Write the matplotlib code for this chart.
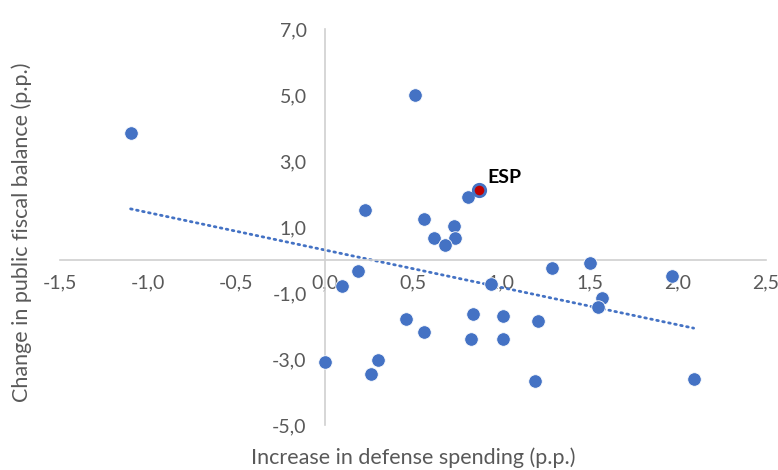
import numpy as np
import matplotlib.pyplot as plt
from matplotlib.ticker import FuncFormatter, MultipleLocator

# Increase in defense spending (p.p.) vs change in public fiscal balance (p.p.)
defense = [-1.10, 0.51, 0.23, 0.81, 0.56, 0.73, 0.62, 0.74, 0.68,
           0.19, 0.10, 0.94, 1.29, 1.50, 1.97, 1.57, 1.55,
           0.46, 0.56, 0.84, 1.01, 1.21, 0.83, 1.01,
           0.00, 0.30, 0.26, 1.19, 2.09]
fiscal = [3.85, 5.00, 1.52, 1.90, 1.24, 1.04, 0.67, 0.67, 0.46,
          -0.34, -0.78, -0.73, -0.24, -0.08, -0.49, -1.15, -1.43,
          -1.80, -2.17, -1.64, -1.69, -1.86, -2.39, -2.39,
          -3.08, -3.03, -3.45, -3.67, -3.62]
esp_x, esp_y = 0.876, 2.12

blue = "#4472C4"
grey_text = "#595959"
font = ["Lato", "DejaVu Sans"]

fig = plt.figure(figsize=(7.78, 4.70), dpi=100)
ax = fig.add_axes([60 / 778, 1 - 425 / 470, 706 / 778, 396 / 470])

ax.scatter(defense, fiscal, s=95, color=blue, edgecolors="white",
           linewidths=0.6, zorder=3)
ax.scatter([esp_x], [esp_y], s=80, color="#C00000", edgecolors=blue,
           linewidths=2.0, zorder=4)
ax.annotate("ESP", (esp_x, esp_y), xytext=(6, 9), textcoords="offset points",
            fontsize=14, fontweight="bold", family=font, color="black",
            va="center", ha="left")

# linear trendline over all points
all_x = np.array(defense + [esp_x])
all_y = np.array(fiscal + [esp_y])
slope, icpt = np.polyfit(all_x, all_y, 1)
tx = np.array([all_x.min(), all_x.max()])
ax.plot(tx, slope * tx + icpt, color=blue, lw=2.0,
        linestyle=(0, (0.6, 1.6)), dash_capstyle="round", zorder=2)

ax.set_xlim(-1.5, 2.5)
ax.set_ylim(-5, 7)
ax.xaxis.set_major_locator(MultipleLocator(0.5))
ax.set_yticks([-5, -3, -1, 1, 3, 5, 7])
fmt = FuncFormatter(lambda v, p: f"{v:.1f}".replace(".", ","))
ax.xaxis.set_major_formatter(fmt)
ax.yaxis.set_major_formatter(fmt)

for side in ["top", "right"]:
    ax.spines[side].set_visible(False)
ax.spines["left"].set_position(("data", 0))
ax.spines["bottom"].set_position(("data", 0))
for side in ["left", "bottom"]:
    ax.spines[side].set_color("#d0d0d0")
    ax.spines[side].set_linewidth(1.2)

ax.tick_params(axis="x", length=0, pad=10, labelsize=14, colors=grey_text)
ax.tick_params(axis="y", length=0, pad=13, labelsize=14, colors=grey_text)
for lab in ax.get_xticklabels() + ax.get_yticklabels():
    lab.set_family(font)

fig.text(413 / 778, 1 - 458 / 470, "Increase in defense spending (p.p.)",
         ha="center", va="center", fontsize=15.5, color=grey_text, family=font)
fig.text(22 / 778, 1 - 232 / 470, "Change in public fiscal balance (p.p.)",
         ha="center", va="center", rotation=90, fontsize=15.5,
         color=grey_text, family=font)

fig.savefig("out.png", dpi=100)
